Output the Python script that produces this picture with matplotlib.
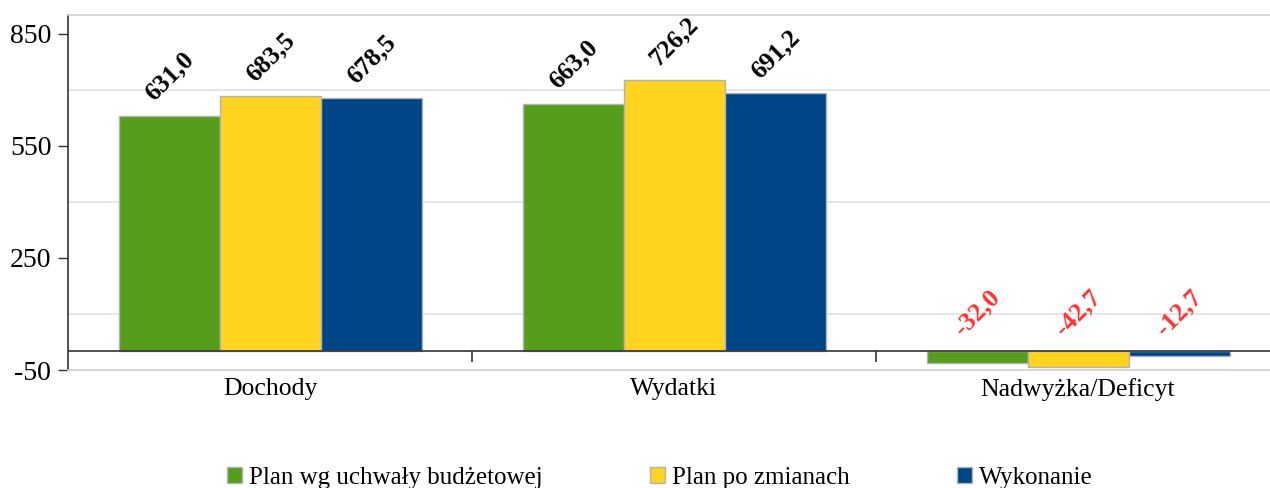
import matplotlib
matplotlib.use("Agg")
import matplotlib.pyplot as plt
from matplotlib.patches import Patch
import numpy as np

plt.rcParams['font.family'] = ['Liberation Serif', 'DejaVu Serif']

categories = ['Dochody', 'Wydatki', 'Nadwyżka/Deficyt']
series_names = ['Plan wg uchwały budżetowej', 'Plan po zmianach', 'Wykonanie']
plan_uchwala = [631.0, 663.0, -32.0]
plan_zmiany = [683.5, 726.2, -42.7]
wykonanie = [678.5, 691.2, -12.7]
colors = ['#579D1C', '#FFD320', '#004586']
yticks = [-50, 250, 550, 850]
grid_lines = [100, 400, 700]

fig = plt.figure(figsize=(12.7, 4.88), dpi=100)
ax = fig.add_axes([68 / 1270, 118 / 488, 1212 / 1270, 355 / 488])

x = np.arange(len(categories))
width = 0.25
all_series = [plan_uchwala, plan_zmiany, wykonanie]

for gy in grid_lines:
    ax.axhline(gy, color='#e0e0e0', linewidth=1.2, zorder=0)

for i, (vals, col) in enumerate(zip(all_series, colors)):
    pos = x + (i - 1) * width
    ax.bar(pos, vals, width, color=col, edgecolor='#b3b3b3', linewidth=1, zorder=2)
    for p, v in zip(pos, vals):
        label = f'{v:.1f}'.replace('.', ',')
        ax.annotate(label, (p, max(v, 0)), xytext=(0, 28), textcoords='offset points',
                    ha='center', va='center', rotation=45, fontsize=18.5,
                    fontweight='bold', color='black' if v >= 0 else '#FF3333', zorder=3)

# zero line with category separator ticks
ax.axhline(0, color='#333333', linewidth=1.2, zorder=3)
ax.vlines([0.5, 1.5], -29, 0, color='#333333', linewidth=1.2, zorder=3)

ax.set_xlim(-0.5, 2.5)
ax.set_ylim(-50, 900)
ax.set_yticks(yticks)
ax.set_yticklabels([str(t) for t in yticks], fontsize=20)
ax.set_xticks(x)
ax.set_xticklabels(categories, fontsize=18.5)
ax.tick_params(axis='x', length=0, pad=6)
ax.tick_params(axis='y', length=7, width=1, color='#333333', pad=5)

ax.spines['right'].set_visible(False)
ax.spines['top'].set_color('#d0d0d0')
ax.spines['bottom'].set_color('#d0d0d0')
ax.spines['left'].set_color('#333333')
for s in ax.spines.values():
    s.set_linewidth(1.2)

handles = [Patch(facecolor=c, edgecolor='#b3b3b3') for c in colors]
fig.legend(handles, series_names, loc='center', bbox_to_anchor=(660 / 1270, 1 - 478 / 488),
           ncol=3, frameon=False, fontsize=18, handlelength=0.6, handleheight=0.6,
           handletextpad=0.28, columnspacing=4.3)

plt.savefig('out.png', dpi=100)
plt.close()
